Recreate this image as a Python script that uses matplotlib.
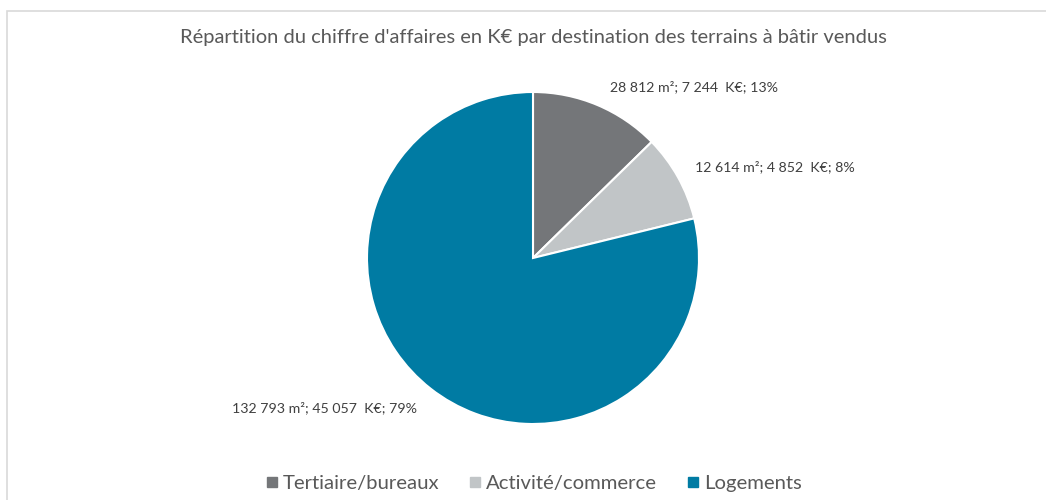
import matplotlib
matplotlib.use("Agg")
import matplotlib.pyplot as plt
from matplotlib.patches import Rectangle
from matplotlib.lines import Line2D

plt.rcParams["font.family"] = ["Lato", "DejaVu Sans"]

# data
categories = ["Tertiaire/bureaux", "Activité/commerce", "Logements"]
surfaces_m2 = ["28 812", "12 614", "132 793"]
ca_keur = [7244, 4852, 45057]
ca_text = ["7 244", "4 852", "45 057"]
pct_text = ["13%", "8%", "79%"]
colors = ["#747679", "#C1C5C7", "#007BA3"]

title = "Répartition du chiffre d'affaires en K€ par destination des terrains à bâtir vendus"

W, H, DPI = 1046, 500, 100
cx, cy, r = 533, 258, 166  # pie centre / radius in pixels

fig = plt.figure(figsize=(W / DPI, H / DPI), dpi=DPI)
fig.patch.set_facecolor("white")

# chart area border (light grey frame, runs off right/bottom)
fig.patches.append(Rectangle((7 / W, -0.05), 1.1, (H - 11) / H + 0.05,
                             transform=fig.transFigure, fill=False,
                             edgecolor="#D9D9D9", lw=1.2))

ax = fig.add_axes([0, 0, 1, 1])
wedges, _ = ax.pie(ca_keur, colors=colors, startangle=90, counterclock=False,
                   radius=1.0, center=(0, 0),
                   wedgeprops=dict(edgecolor="white", linewidth=1.5))
# pie() resets the limits, so set them afterwards
ax.set_xlim(-cx / r, (W - cx) / r)
ax.set_ylim(-(H - cy) / r, cy / r)
ax.set_aspect("equal")
ax.axis("off")

# data label positions (pixels in the picture, converted to data units)
label_px = [(694, 87), (775, 167), (324, 408)]
for (px, py), s, c, p in zip(label_px, surfaces_m2, ca_text, pct_text):
    ax.text((px - cx) / r, (cy - py) / r, f"{s} m²; {c}  K€; {p}",
            ha="center", va="center", fontsize=10.2, color="#404040")

fig.text(cx / W, 1 - 37 / H, title, ha="center", va="center",
         fontsize=14.5, color="#595959")

handles = [Line2D([], [], marker="s", linestyle="none", markersize=7.5,
                  markerfacecolor=c, markeredgecolor=c) for c in colors]
fig.legend(handles, categories, loc="center", bbox_to_anchor=(cx / W, 17 / H),
           ncol=3, frameon=False, fontsize=14.6, labelcolor="#595959",
           handletextpad=0.2, columnspacing=1.4, handlelength=0.7)

fig.savefig("out.png", dpi=DPI)
